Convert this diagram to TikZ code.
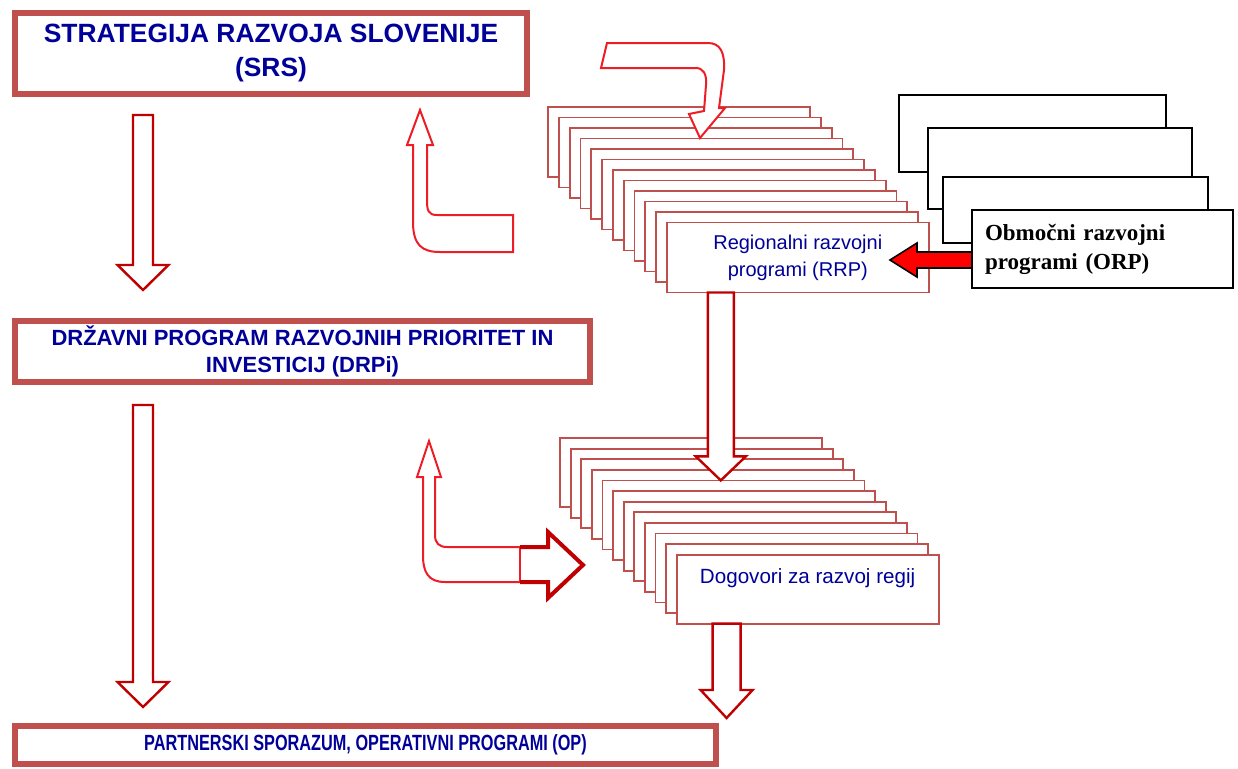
\documentclass[tikz,border=0pt]{standalone}
\usepackage{fontspec}
\usepackage{graphicx}
\setmainfont{Liberation Sans}
\newfontfamily\orpfont{Liberation Serif}
\usetikzlibrary{calc}
\definecolor{boxred}{HTML}{C0504D}
\definecolor{darkarr}{HTML}{C00000}
\definecolor{brightarr}{HTML}{EE1C24}
\definecolor{navy}{HTML}{000099}
% hollow block arrow pointing down: top centre, tip, shaft half, head half, head length
\newcommand\blockdown[5]{%
  \draw[downarr] ($(#1)+(-#3,0)$) -- ($(#1)+(#3,0)$) -- ($(#2)+(#3,-#5)$)
    -- ($(#2)+(#4,-#5)$) -- (#2) -- ($(#2)+(-#4,-#5)$) -- ($(#2)+(-#3,-#5)$) -- cycle;}

\begin{document}
\begin{tikzpicture}[x=0.5pt, y=-0.5pt, line join=miter,
  titlebox/.style={draw=boxred, line width=3pt, fill=white, inner sep=0pt,
                   outer sep=0pt, anchor=north west, text=navy, align=center},
  rrpbox/.style={draw=boxred, line width=0.9pt, fill=white, inner sep=0pt,
                 outer sep=0pt, anchor=north west, minimum width=131pt,
                 text=navy, align=center},
  orpbox/.style={draw=black, line width=1pt, fill=white, inner sep=0pt,
                 outer sep=0pt, anchor=north west},
  downarr/.style={draw=darkarr, line width=1.2pt, fill=white},
  bentarr/.style={draw=brightarr, line width=1pt, fill=white},
  headarr/.style={draw=darkarr, line width=2pt, line join=miter},
  redarr/.style={draw=black, line width=0.8pt, fill=red}]
\useasboundingbox (0,0) rectangle (1238,768);

% ================================================================ left column
\node[titlebox, minimum width=256pt, minimum height=40.5pt,
      font=\bfseries\fontsize{13.2}{17}\selectfont] (srs) at (15,13)
  {STRATEGIJA RAZVOJA SLOVENIJE\\(SRS)};
\node[titlebox, minimum width=287.5pt, minimum height=30.5pt,
      font=\bfseries\fontsize{11}{13.5}\selectfont] (drp) at (15,321)
  {DRŽAVNI PROGRAM RAZVOJNIH PRIORITET IN\\INVESTICIJ (DRPi)};
\node[titlebox, minimum width=350.5pt, minimum height=19pt,
      font=\bfseries\fontsize{11}{12}\selectfont] (op) at (15,726)
  {\scalebox{0.74}[1]{PARTNERSKI SPORAZUM, OPERATIVNI PROGRAMI (OP)}};

% ================================================================ RRP stack
\foreach \i in {0,...,10}
  \node[rrpbox, minimum height=35pt] (rrp\i) at ({548+10.8*\i},{107+10.5*\i}) {};
\node[rrpbox, minimum height=35pt, font=\fontsize{10}{13.5}\selectfont] (rrp11)
  at ({548+10.8*11},{107+10.5*11}) {Regionalni razvojni\\programi (RRP)};

% ================================================================ Dogovori stack
\foreach \i in {0,...,10}
  \node[rrpbox, minimum height=34.5pt] (dog\i) at ({560+10.6*\i},{438+10.6*\i}) {};
\node[rrpbox, minimum height=34.5pt, text height=8pt, text depth=14pt,
      font=\fontsize{10.3}{12}\selectfont] (dog11)
  at ({560+10.6*11},{438+10.6*11}) {Dogovori za razvoj regij};

% ================================================================ ORP stack
\node[orpbox, minimum width=133.5pt, minimum height=38.5pt] (orp1) at (899,95) {};
\node[orpbox, minimum width=132pt, minimum height=40.5pt] (orp2) at (928,128) {};
\node[orpbox, minimum width=132.5pt, minimum height=33pt] (orp3) at (943,177) {};
\node[orpbox, minimum width=130.5pt, minimum height=39pt, inner xsep=6.5pt,
      text width=117.5pt, align=left,
      font=\orpfont\bfseries\fontsize{11.5}{14.5}\selectfont] (orp4) at (972,210)
  {Območni razvojni\\programi (ORP)};

% ================================================================ bent arrows
\draw[bentarr] (513,252) -- (513,215) -- (437,215)
  .. controls (428,215) and (427,210) .. (427,200) -- (427,145) -- (433,145)
  -- (420,110) -- (407,145) -- (413,145) -- (413,222)
  .. controls (413,245) and (422,252) .. (440,252) -- cycle;

\draw[bentarr] (548,582) -- (445,582) .. controls (428,582) and (423,572) .. (423,555)
  -- (423,477) -- (417,477) -- (429,441) -- (441,477) -- (435,477) -- (435,535)
  .. controls (435,543) and (439,547) .. (447,547) -- (548,547) -- (548,532)
  -- (583,565) -- (548,598) -- cycle;
\draw[bentarr, line width=0.6pt] (520,547) -- (520,582);
\draw[headarr] (520,547) -- (548,547) -- (548,532) -- (583,565) -- (548,598)
  -- (548,582) -- (520,582);

\draw[bentarr] (607,43) -- (708,43) .. controls (720,43) and (725,52) .. (724,70)
  -- (719,108) -- (725,108) -- (700,138) -- (689,114) -- (704,111) -- (706,85)
  .. controls (707,74) and (703,68) .. (696,68) -- (601,68) -- cycle;

% ================================================================ down arrows
\coordinate (a1top) at ([shift={(128,21)}]srs.south west);
\coordinate (a1tip) at ([shift={(128,-31)}]drp.north west);
\coordinate (a2top) at ([shift={(128,23)}]drp.south west);
\coordinate (a2tip) at ([shift={(128,-19)}]op.north west);
\coordinate (a3top) at ([shift={(54,0)}]rrp11.south west);
\coordinate (a3tip) at (a3top |- dog4.north);
\coordinate (a4top) at ([shift={(50,0)}]dog11.south west);
\coordinate (a4tip) at ([shift={(0,-8)}]a4top |- op.north);
\blockdown{a1top}{a1tip}{10}{25.5}{25}
\blockdown{a2top}{a2tip}{10}{25.5}{25}
\blockdown{a3top}{a3tip}{13}{25}{24}
\blockdown{a4top}{a4tip}{14}{26}{28}

% ================================================================ ORP -> RRP
\coordinate (orpout) at ([shift={(0,11)}]orp4.west);
\coordinate (rrpin) at ([shift={(-82,0)}]orpout);
\draw[redarr] ($(orpout)+(0,-8)$) -- ($(rrpin)+(27,-8)$) -- ($(rrpin)+(27,-17)$)
  -- (rrpin) -- ($(rrpin)+(27,17)$) -- ($(rrpin)+(27,8)$) -- ($(orpout)+(0,8)$) -- cycle;

\end{tikzpicture}
\end{document}
